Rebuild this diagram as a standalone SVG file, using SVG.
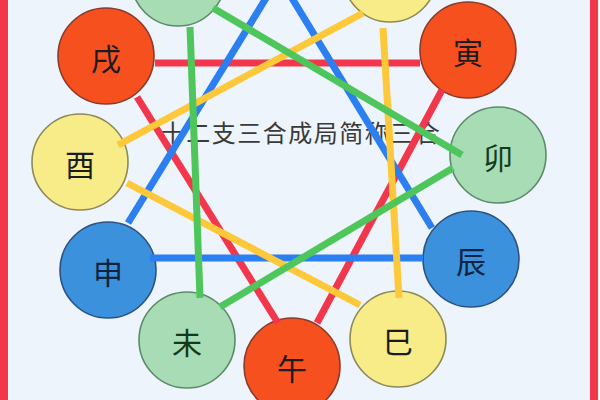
<svg xmlns="http://www.w3.org/2000/svg" width="600" height="400" viewBox="0 0 600 400">
<style>
.ln{stroke-width:7;stroke-linecap:butt;fill:none}
.r{stroke:#f2364b}.b{stroke:#2b7ff0}.y{stroke:#fdc93b}.g{stroke:#4fc65c}
.c{stroke-width:1.6}
.fire{fill:#f7501f;stroke:#8a3b2c}
.wood{fill:#a7dcb5;stroke:#5c8b6a}
.metal{fill:#f7ec88;stroke:#8c8a58}
.water{fill:#3c91dc;stroke:#2c5283}
.t{font-family:"Noto Sans CJK SC","Noto Sans CJK JP",sans-serif;font-size:30px;text-anchor:middle;dominant-baseline:central;fill:#1c1c1c}
.title{font-family:"Noto Sans CJK SC","Noto Sans CJK JP",sans-serif;font-size:24px;fill:#3a3a3a;text-anchor:middle;letter-spacing:1.5px}
</style>
<rect x="0" y="0" width="600" height="400" fill="#eef4fb"/>
<rect x="0" y="0" width="8" height="400" fill="#f2364b"/>
<rect x="590" y="0" width="8" height="400" fill="#f2364b"/>
<rect x="598" y="0" width="2" height="400" fill="#f6f8fb"/>
<text class="title" x="301" y="142">十二支三合成局简称三合</text>
<g id="hai"><circle class="c wood" cx="178" cy="-21" r="47"/></g>
<g id="chou"><circle class="c metal" cx="390" cy="-25" r="47"/></g>
<g id="xu"><circle class="c fire" cx="106" cy="56" r="48"/><text class="t" x="106" y="57">戌</text></g>
<g id="yin"><circle class="c fire" cx="468" cy="50" r="48"/><text class="t" x="468" y="51" fill="#3a1010">寅</text></g>
<g id="you"><circle class="c metal" cx="80" cy="162" r="48"/><text class="t" x="80" y="163">酉</text></g>
<g id="mao"><circle class="c wood" cx="498" cy="155" r="48"/><text class="t" x="498" y="156" style="fill:#123a1c">卯</text></g>
<g id="shen"><circle class="c water" cx="108" cy="270" r="48"/><text class="t" x="108" y="271" style="fill:#0d2340">申</text></g>
<g id="chen"><circle class="c water" cx="471" cy="259" r="48"/><text class="t" x="471" y="260" style="fill:#0d2340">辰</text></g>
<g id="wei"><circle class="c wood" cx="187" cy="340" r="48"/><text class="t" x="187" y="341" style="fill:#123a1c">未</text></g>
<g id="si"><circle class="c metal" cx="398" cy="339" r="48"/><text class="t" x="398" y="340">巳</text></g>
<g id="wu"><circle class="c fire" cx="292" cy="366" r="48"/><text class="t" x="292" y="367">午</text></g>
<g id="connectors">
<line class="ln r" x1="155" y1="63" x2="420" y2="63"/>
<line class="ln r" x1="137" y1="97" x2="278" y2="323"/>
<line class="ln r" x1="442" y1="90" x2="317" y2="323"/>
<line class="ln b" x1="150" y1="258" x2="423" y2="258"/>
<line class="ln b" x1="128" y1="223" x2="271" y2="-10"/>
<line class="ln b" x1="432" y1="228" x2="287" y2="-10"/>
<line class="ln y" x1="118" y1="145" x2="363" y2="13"/>
<line class="ln y" x1="127" y1="183" x2="360" y2="305"/>
<line class="ln y" x1="383" y1="28" x2="399" y2="298"/>
<line class="ln g" x1="213" y1="8" x2="462" y2="155"/>
<line class="ln g" x1="453" y1="168" x2="220" y2="307"/>
<line class="ln g" x1="190" y1="27" x2="200" y2="298"/>
</g>
</svg>
